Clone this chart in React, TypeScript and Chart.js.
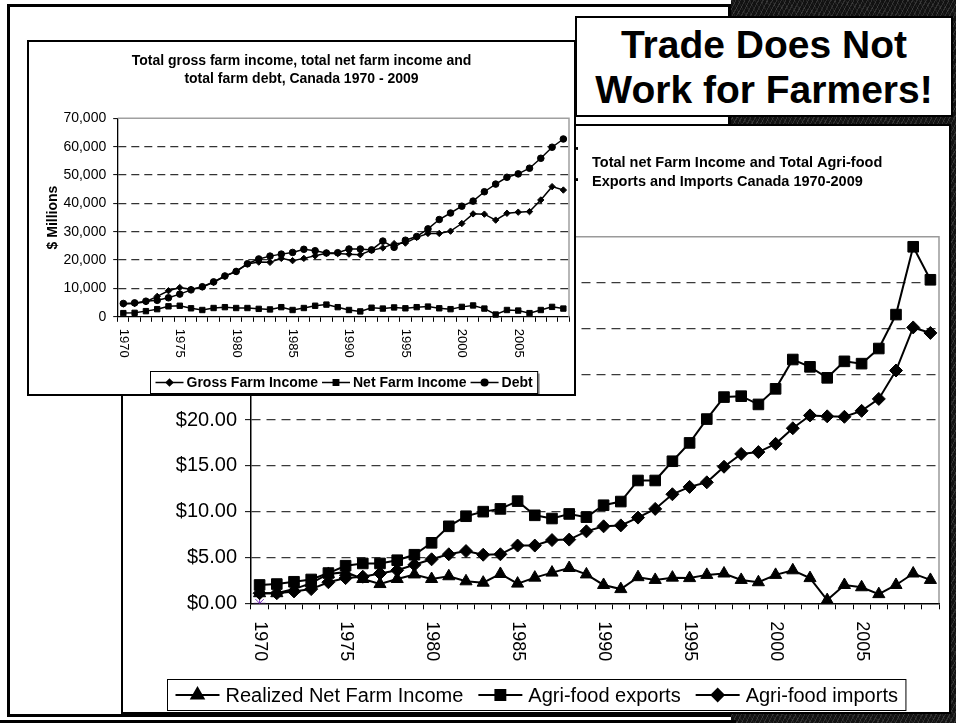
import React, { useEffect, useRef } from 'react';
import { Chart, registerables } from 'chart.js';
import { drawPoint } from 'chart.js/helpers';

Chart.register(...registerables);

const FONT = "'Liberation Sans', Arial, sans-serif";

const YEARS = [
  '1970', '1971', '1972', '1973', '1974', '1975', '1976', '1977', '1978', '1979',
  '1980', '1981', '1982', '1983', '1984', '1985', '1986', '1987', '1988', '1989',
  '1990', '1991', '1992', '1993', '1994', '1995', '1996', '1997', '1998', '1999',
  '2000', '2001', '2002', '2003', '2004', '2005', '2006', '2007', '2008', '2009',
];
const TICK_LABELS = ['1970', '1975', '1980', '1985', '1990', '1995', '2000', '2005'];

// Big chart (billions of dollars)
const REALIZED_NFI = [
  1.1, 1.1, 1.55, 2.2, 3.2, 3.4, 2.65, 2.1, 2.65, 3.15,
  2.65, 2.95, 2.4, 2.25, 3.2, 2.15, 2.8, 3.35, 3.85, 3.15,
  2.0, 1.55, 2.85, 2.55, 2.8, 2.75, 3.1, 3.25, 2.55, 2.3,
  3.1, 3.6, 2.75, 0.35, 2.0, 1.75, 1.0, 2.0, 3.25, 2.55,
];
const AGRI_EXPORTS = [
  2.0, 2.1, 2.35, 2.6, 3.3, 4.1, 4.35, 4.35, 4.7, 5.3,
  6.6, 8.4, 9.5, 10.0, 10.3, 11.15, 9.6, 9.25, 9.75, 9.4,
  10.7, 11.1, 13.4, 13.4, 15.5, 17.5, 20.1, 22.5, 22.6, 21.7,
  23.4, 26.6, 25.8, 24.6, 26.4, 26.15, 27.8, 31.5, 38.9, 35.3,
];
const AGRI_IMPORTS = [
  1.1, 1.1, 1.3, 1.55, 2.3, 2.75, 2.9, 3.25, 3.6, 4.2,
  4.8, 5.35, 5.7, 5.3, 5.35, 6.3, 6.3, 6.9, 6.95, 7.85,
  8.4, 8.5, 9.35, 10.3, 11.9, 12.7, 13.2, 14.9, 16.3, 16.5,
  17.4, 19.1, 20.5, 20.4, 20.35, 21.0, 22.3, 25.4, 30.1, 29.5,
];
const STRAY_MARK = [0];

// Small chart ($ millions)
const GROSS_INCOME = [
  4500, 4700, 5300, 7200, 9200, 10300, 9700, 10500, 12200, 14300,
  16000, 18600, 19300, 19200, 20600, 19800, 20600, 21500, 22400, 22300,
  22100, 21900, 23500, 24300, 25800, 26000, 28000, 29400, 29400, 30200,
  32900, 36300, 36200, 34100, 36500, 36900, 37100, 41200, 45900, 44700,
];
const NET_INCOME = [
  1300, 1400, 2000, 2700, 3700, 3900, 3000, 2400, 3100, 3400,
  3100, 3100, 2800, 2600, 3400, 2400, 3100, 3900, 4300, 3400,
  2400, 1900, 3200, 2900, 3300, 3000, 3400, 3600, 3000, 2700,
  3500, 4000, 2900, 800, 2400, 2200, 1300, 2400, 3500, 2900,
];
const FARM_DEBT = [
  4700, 4900, 5500, 5800, 6700, 8000, 9500, 10600, 12300, 14400,
  16000, 18700, 20400, 21400, 22100, 22700, 23800, 23300, 22500, 22600,
  23900, 23900, 23600, 26700, 24500, 27000, 28300, 31000, 34300, 36600,
  39000, 40800, 44100, 46800, 49200, 50400, 52400, 55900, 59800, 62700,
];

const BIG_TITLE = ['Total net Farm Income and Total Agri-food', 'Exports and Imports Canada 1970-2009'];
const SMALL_TITLE = ['Total gross farm income, total net farm income and', 'total farm debt, Canada 1970 - 2009'];
const SLIDE_TITLE = ['Trade Does Not', 'Work for Farmers!'];

type LegendItem = { label: string; pointStyle: any; radius: number };

function drawLegend(
  ctx: CanvasRenderingContext2D,
  items: LegendItem[],
  o: { font: string; cx: number; top: number; height: number; sample: number; gap1: number; gap2: number; padX: number; lineWidth: number; shadow: boolean },
) {
  ctx.save();
  ctx.font = o.font;
  const widths = items.map((it) => ctx.measureText(it.label).width);
  let total = 0;
  items.forEach((_, i) => { total += o.sample + o.gap1 + widths[i]; });
  total += o.gap2 * (items.length - 1);
  const boxW = total + 2 * o.padX;
  const bx = Math.round(o.cx - boxW / 2) + 0.5;
  const by = Math.round(o.top) + 0.5;
  if (o.shadow) {
    ctx.fillStyle = '#8c8c8c';
    ctx.fillRect(bx + 2, by + 2, boxW, o.height);
  }
  ctx.fillStyle = '#fff';
  ctx.fillRect(bx, by, boxW, o.height);
  ctx.strokeStyle = '#000';
  ctx.lineWidth = 1;
  ctx.strokeRect(bx, by, boxW, o.height);
  const cy = by + o.height / 2;
  let x = bx + o.padX;
  items.forEach((it, i) => {
    ctx.strokeStyle = '#000';
    ctx.lineWidth = o.lineWidth;
    ctx.beginPath();
    ctx.moveTo(x, cy);
    ctx.lineTo(x + o.sample, cy);
    ctx.stroke();
    ctx.fillStyle = '#000';
    ctx.strokeStyle = '#000';
    drawPoint(ctx, { pointStyle: it.pointStyle, radius: it.radius, rotation: 0, borderWidth: 1 } as any, x + o.sample / 2, cy);
    x += o.sample + o.gap1;
    ctx.fillStyle = '#000';
    ctx.textAlign = 'left';
    ctx.textBaseline = 'middle';
    ctx.font = o.font;
    ctx.fillText(it.label, x, cy + 1);
    x += widths[i] + o.gap2;
  });
  ctx.restore();
}

function plotBorder(chart: any, color: string) {
  const { ctx, chartArea: a } = chart;
  ctx.save();
  ctx.strokeStyle = color;
  ctx.lineWidth = 1.5;
  ctx.beginPath();
  ctx.moveTo(a.left, a.top);
  ctx.lineTo(a.right, a.top);
  ctx.lineTo(a.right, a.bottom);
  ctx.stroke();
  ctx.restore();
}

function rotatedXLabels(chart: any, font: string, offset: number) {
  const { ctx, chartArea: a } = chart;
  const xs = chart.scales.x;
  ctx.save();
  ctx.fillStyle = '#000';
  ctx.font = font;
  ctx.textAlign = 'left';
  ctx.textBaseline = 'middle';
  TICK_LABELS.forEach((lbl) => {
    const i = YEARS.indexOf(lbl);
    const x = xs.getPixelForValue(i);
    ctx.save();
    ctx.translate(x, a.bottom + offset);
    ctx.rotate(Math.PI / 2);
    ctx.fillText(lbl, 0, 0);
    ctx.restore();
  });
  ctx.restore();
}

const bigPlugin = {
  id: 'bigDecor',
  beforeDatasetsDraw(chart: any) {
    plotBorder(chart, '#9a9a9a');
  },
  afterDraw(chart: any) {
    const { ctx } = chart;
    rotatedXLabels(chart, `18px ${FONT}`, 18);
    ctx.save();
    ctx.fillStyle = '#000';
    ctx.textAlign = 'left';
    ctx.textBaseline = 'middle';
    ctx.font = `bold 14.5px ${FONT}`;
    BIG_TITLE.forEach((t, k) => ctx.fillText(t, 469, 37 + k * 19));
    ctx.font = `bold 24px ${FONT}`;
    ctx.textBaseline = 'alphabetic';
    ctx.fillText('r', 446, 34);
    ctx.fillText('-', 448, 60);
    ctx.restore();
    drawLegend(
      ctx,
      [
        { label: 'Realized Net Farm Income', pointStyle: 'triangle', radius: 7 },
        { label: 'Agri-food exports', pointStyle: 'rect', radius: 7 },
        { label: 'Agri-food imports', pointStyle: 'rectRot', radius: 6 },
      ],
      { font: `20px ${FONT}`, cx: chart.width / 2, top: 553, height: 31, sample: 44, gap1: 6, gap2: 15, padX: 8, lineWidth: 2, shadow: false },
    );
  },
};

const smallPlugin = {
  id: 'smallDecor',
  beforeDatasetsDraw(chart: any) {
    plotBorder(chart, '#a0a0a0');
  },
  afterDraw(chart: any) {
    const { ctx, chartArea: a } = chart;
    rotatedXLabels(chart, `13px ${FONT}`, 12);
    ctx.save();
    ctx.fillStyle = '#000';
    ctx.textAlign = 'center';
    ctx.textBaseline = 'middle';
    ctx.font = `bold 14px ${FONT}`;
    SMALL_TITLE.forEach((t, k) => ctx.fillText(t, chart.width / 2, 19 + k * 18.3));
    ctx.save();
    ctx.translate(24, (a.top + a.bottom) / 2);
    ctx.rotate(-Math.PI / 2);
    ctx.font = `bold 14px ${FONT}`;
    ctx.fillText('$ Millions', 0, 0);
    ctx.restore();
    ctx.restore();
    drawLegend(
      ctx,
      [
        { label: 'Gross Farm Income', pointStyle: 'rectRot', radius: 3.2 },
        { label: 'Net Farm Income', pointStyle: 'rect', radius: 3.8 },
        { label: 'Debt', pointStyle: 'circle', radius: 3.3 },
      ],
      { font: `bold 14px ${FONT}`, cx: (a.left + a.right) / 2, top: 328.5, height: 22, sample: 28, gap1: 3, gap2: 4, padX: 5, lineWidth: 1.5, shadow: true },
    );
  },
};

function lineDs(label: string, data: number[], style: string, radius: number, width: number) {
  return {
    label,
    data,
    borderColor: '#000',
    backgroundColor: '#000',
    borderWidth: width,
    pointStyle: style,
    pointRadius: radius,
    pointBackgroundColor: '#000',
    pointBorderColor: '#000',
    pointBorderWidth: 1,
    tension: 0,
    clip: false as any,
  };
}

function bigConfig(): any {
  return {
    type: 'line',
    data: {
      labels: YEARS,
      datasets: [
        lineDs('Realized Net Farm Income', REALIZED_NFI, 'triangle', 7, 2),
        lineDs('Agri-food exports', AGRI_EXPORTS, 'rect', 7.5, 2),
        lineDs('Agri-food imports', AGRI_IMPORTS, 'rectRot', 6.5, 2),
        {
          label: '',
          data: STRAY_MARK,
          showLine: false,
          pointStyle: 'star',
          pointRadius: 6,
          pointBorderColor: '#7a35b8',
          pointBorderWidth: 1,
          borderColor: '#7a35b8',
        },
      ],
    },
    options: {
      animation: false,
      responsive: false,
      maintainAspectRatio: false,
      events: [],
      layout: { padding: { left: 0, right: 10, top: 110.7, bottom: 48.7 } },
      plugins: { legend: { display: false }, title: { display: false }, tooltip: { enabled: false } },
      scales: {
        x: {
          type: 'category',
          offset: true,
          grid: { offset: true, drawOnChartArea: false, drawTicks: true, tickLength: 6, tickColor: '#000', tickWidth: 1 },
          border: { display: true, color: '#000', width: 1.5 },
          ticks: { display: false, autoSkip: false },
          afterFit: (s: any) => { s.height = 60; },
        },
        y: {
          min: 0,
          max: 40,
          ticks: {
            stepSize: 5,
            callback: (v: any) => '$' + Number(v).toFixed(2),
            font: { family: FONT, size: 20 },
            color: '#000',
            padding: 8,
          },
          grid: {
            color: (c: any) => (c.tick && (c.tick.value === 40 || c.tick.value === 0) ? 'rgba(0,0,0,0)' : '#3a3a3a'),
            lineWidth: 1.3,
            tickColor: '#000',
            tickLength: 6,
            tickWidth: 1,
            tickBorderDash: [],
          },
          border: { display: true, color: '#000', width: 1.5, dash: [9, 6] },
          afterFit: (s: any) => { s.width = 128; },
        },
      },
    },
    plugins: [bigPlugin],
  };
}

function smallConfig(): any {
  return {
    type: 'line',
    data: {
      labels: YEARS,
      datasets: [
        lineDs('Gross Farm Income', GROSS_INCOME, 'rectRot', 3.2, 1.5),
        lineDs('Net Farm Income', NET_INCOME, 'rect', 3.8, 1.5),
        lineDs('Debt', FARM_DEBT, 'circle', 3.3, 1.5),
      ],
    },
    options: {
      animation: false,
      responsive: false,
      maintainAspectRatio: false,
      events: [],
      layout: { padding: { left: 0, right: 4.7, top: 76.3, bottom: 27.2 } },
      plugins: { legend: { display: false }, title: { display: false }, tooltip: { enabled: false } },
      scales: {
        x: {
          type: 'category',
          offset: true,
          grid: { offset: true, drawOnChartArea: false, drawTicks: true, tickLength: 5, tickColor: '#000', tickWidth: 1 },
          border: { display: true, color: '#000', width: 1.3 },
          ticks: { display: false, autoSkip: false },
          afterFit: (s: any) => { s.height = 50; },
        },
        y: {
          min: 0,
          max: 70000,
          ticks: {
            stepSize: 10000,
            callback: (v: any) => Number(v).toLocaleString('en-US'),
            font: { family: FONT, size: 14 },
            color: '#000',
            padding: 7,
          },
          grid: {
            color: (c: any) => (c.tick && (c.tick.value === 70000 || c.tick.value === 0) ? 'rgba(0,0,0,0)' : '#333'),
            lineWidth: 1.2,
            tickColor: '#000',
            tickLength: 4.5,
            tickWidth: 1,
            tickBorderDash: [],
          },
          border: { display: true, color: '#000', width: 1.3, dash: [8, 5] },
          afterFit: (s: any) => { s.width = 88.7; },
        },
      },
    },
    plugins: [smallPlugin],
  };
}

function ChartCanvas(props: { make: () => any; left: number; top: number; width: number; height: number }) {
  const ref = useRef<HTMLCanvasElement>(null);
  useEffect(() => {
    const chart = new Chart(ref.current as HTMLCanvasElement, props.make());
    return () => chart.destroy();
  }, []);
  return (
    <canvas
      ref={ref}
      width={props.width}
      height={props.height}
      style={{ position: 'absolute', left: props.left, top: props.top, width: props.width, height: props.height, display: 'block' }}
    />
  );
}

export default function App() {
  const abs = (l: number, t: number, w: number, h: number, extra: React.CSSProperties = {}): React.CSSProperties => ({
    position: 'absolute', left: l, top: t, width: w, height: h, boxSizing: 'border-box', ...extra,
  });
  return (
    <div style={{ position: 'fixed', left: 0, top: 0, width: 956, height: 723, background: '#fff', overflow: 'hidden' }}>
      <div
        style={abs(731, 0, 225, 723, {
          background:
            'repeating-linear-gradient(118deg, rgba(140,140,140,0.25) 0px, rgba(140,140,140,0.25) 1px, rgba(0,0,0,0) 1px, rgba(0,0,0,0) 4px), repeating-linear-gradient(62deg, rgba(110,110,110,0.16) 0px, rgba(110,110,110,0.16) 1px, rgba(0,0,0,0) 1px, rgba(0,0,0,0) 5px), #121212',
        })}
      />
      <div style={abs(7, 4, 724, 713, { border: '3px solid #000' })} />
      <div style={abs(0, 720, 736, 3, { background: '#000' })} />
      <div style={abs(121, 124, 830, 590, { border: '2px solid #000', background: '#fff' })} />
      <ChartCanvas make={bigConfig} left={123} top={126} width={826} height={586} />
      <div style={abs(27, 40, 549, 356, { border: '2px solid #000', background: '#fff' })} />
      <ChartCanvas make={smallConfig} left={29} top={42} width={545} height={352} />
      <div
        style={abs(575, 16, 378, 101, {
          border: '2px solid #000',
          background: '#fff',
          display: 'flex',
          flexDirection: 'column',
          justifyContent: 'center',
          alignItems: 'center',
          fontFamily: FONT,
          fontWeight: 'bold',
          fontSize: 39,
          lineHeight: '45px',
          color: '#000',
        })}
      >
        {SLIDE_TITLE.map((t) => (
          <div key={t}>{t}</div>
        ))}
      </div>
    </div>
  );
}
